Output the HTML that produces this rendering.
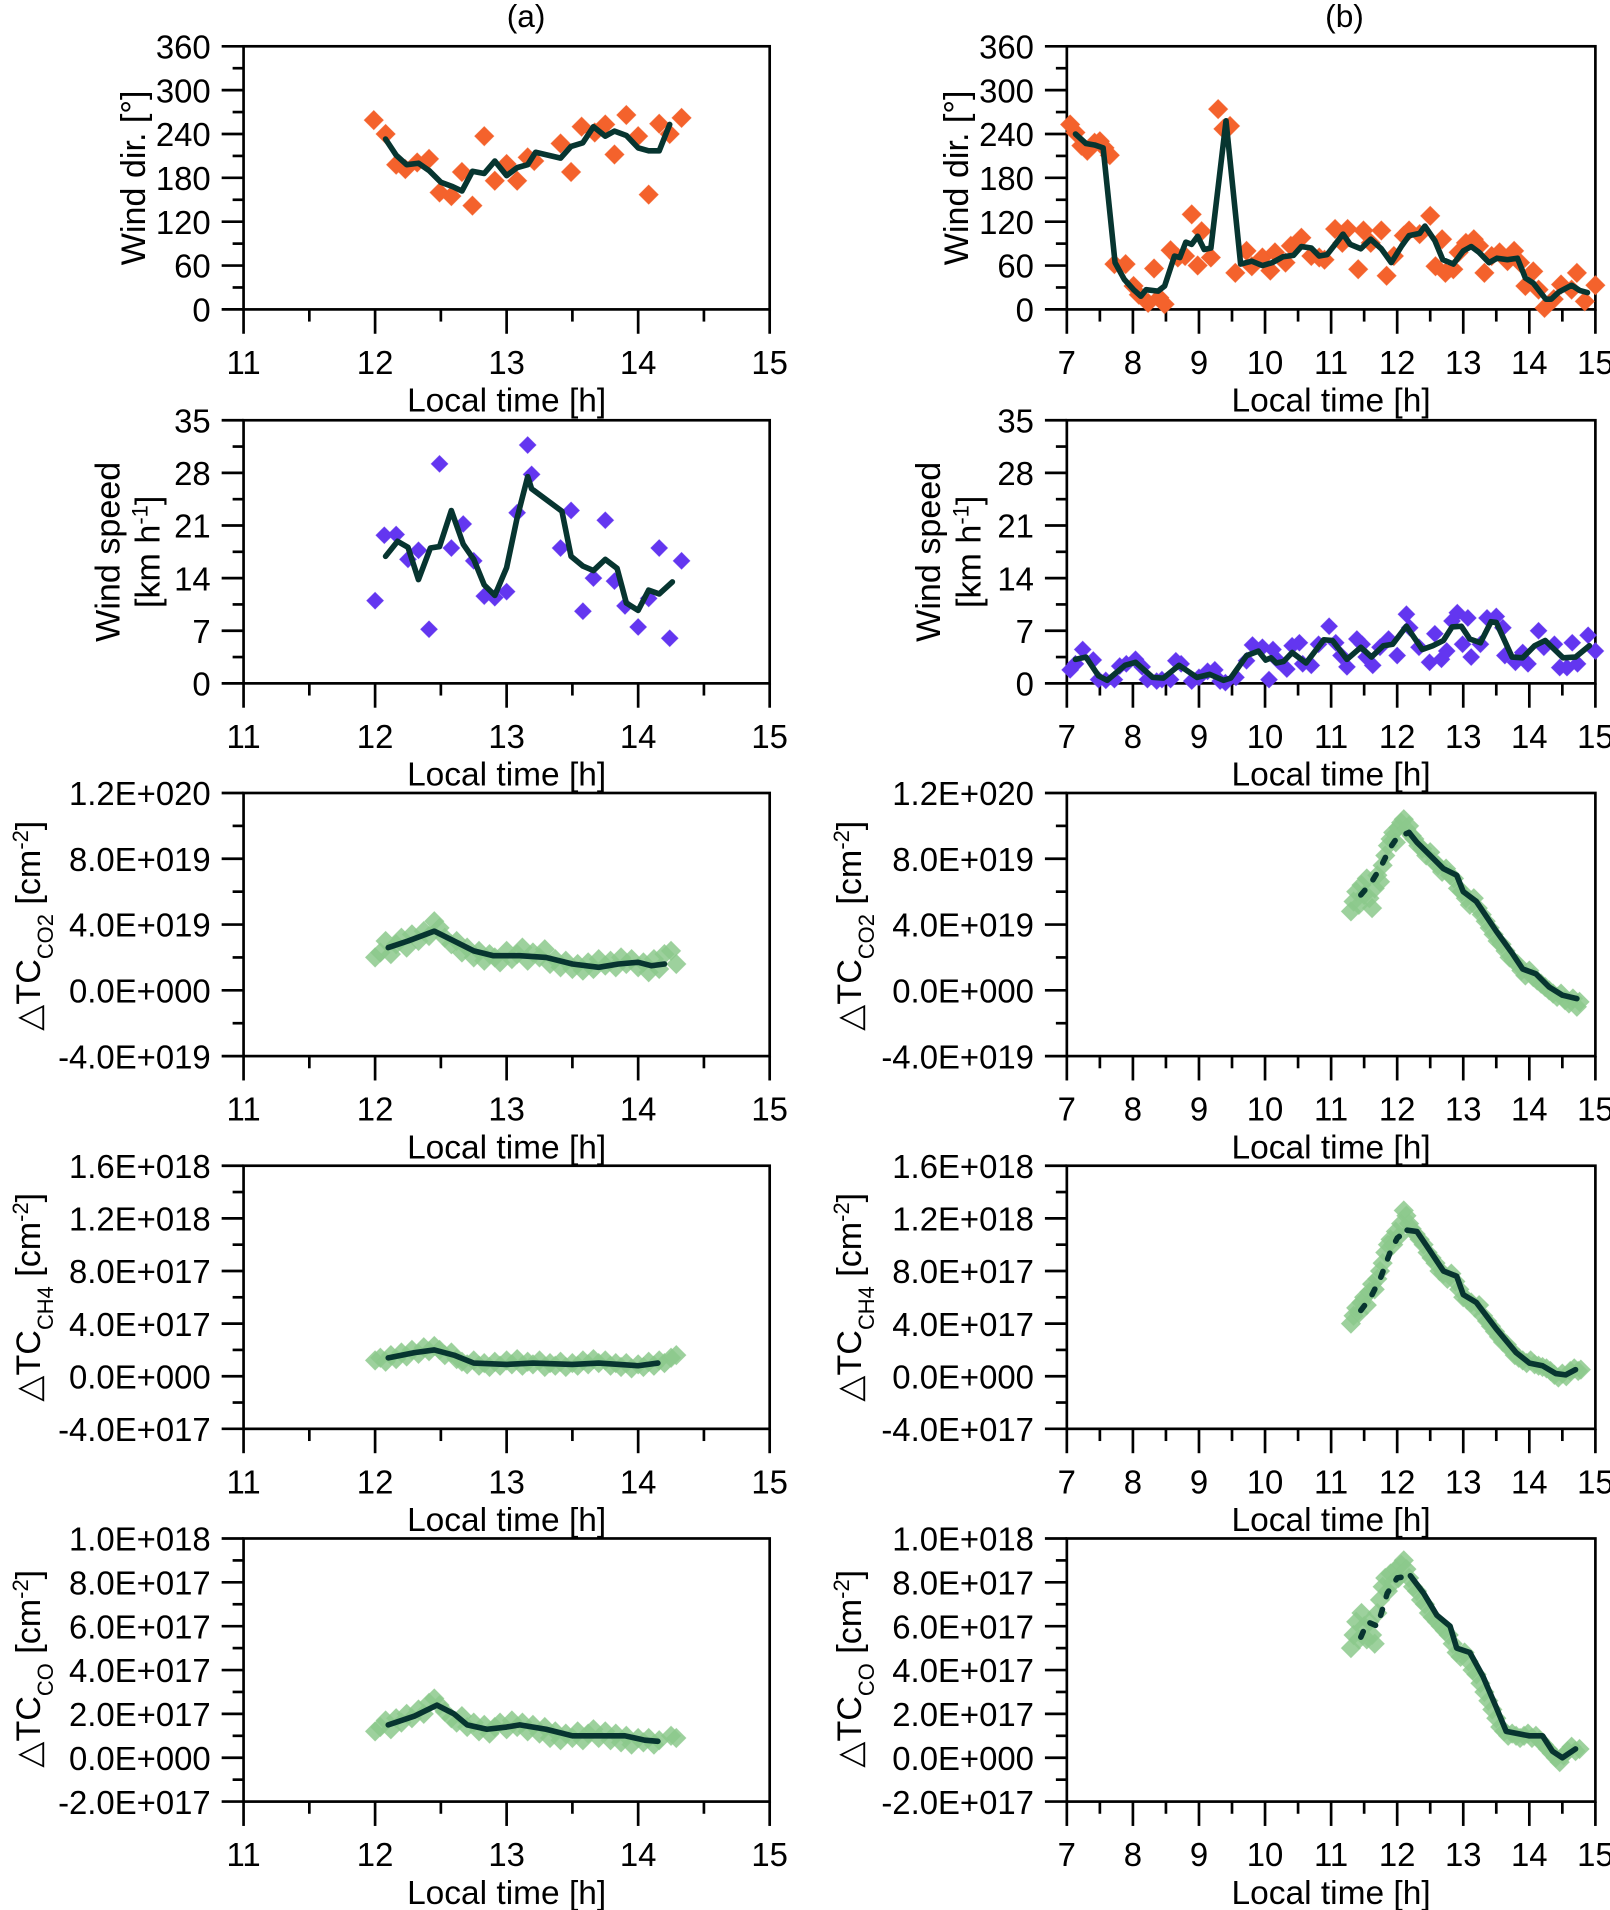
<!DOCTYPE html>
<html><head><meta charset="utf-8"><style>
html,body{margin:0;padding:0;background:#fff;}
svg{display:block;}
text{font-family:"Liberation Sans",Arial,sans-serif;fill:#000;}
</style></head><body>
<svg id="fig" width="1610" height="1910" viewBox="0 0 1322 1568" preserveAspectRatio="none" xmlns="http://www.w3.org/2000/svg">
<text x="432" y="22" font-size="26" text-anchor="middle">(a)</text>
<text x="1104" y="22" font-size="26" text-anchor="middle">(b)</text>
</svg>
<script>
// ---- Data ----
const wdA_t=[11.99,12.08,12.16,12.23,12.32,12.41,12.49,12.58,12.66,12.74,12.83,12.91,13.0,13.08,13.16,13.21,13.41,13.49,13.57,13.67,13.75,13.82,13.91,14.0,14.08,14.16,14.24,14.33];
const wdA_v=[259,240,198,192,201,206,160,155,188,142,237,176,199,176,208,203,227,188,250,242,253,212,266,237,157,254,240,262];
const wdA_lt=[12.08,12.16,12.24,12.33,12.41,12.5,12.59,12.66,12.74,12.83,12.91,13.0,13.08,13.16,13.22,13.41,13.49,13.58,13.66,13.75,13.82,13.91,14.0,14.08,14.16,14.24];
const wdA_lv=[233,211,198,200,190,174,168,162,189,186,203,183,194,198,215,207,223,228,250,237,244,238,221,217,217,253];

const wdB_t=[7.05,7.13,7.22,7.31,7.42,7.5,7.57,7.65,7.72,7.89,8.01,8.09,8.23,8.32,8.4,8.48,8.57,8.68,8.79,8.89,8.98,9.04,9.18,9.29,9.37,9.47,9.55,9.72,9.8,9.96,10.08,10.15,10.31,10.39,10.55,10.7,10.82,10.9,11.06,11.17,11.25,11.41,11.49,11.6,11.76,11.84,11.95,12.1,12.18,12.34,12.5,12.58,12.68,12.73,12.85,12.93,13.04,13.16,13.24,13.32,13.43,13.55,13.67,13.77,13.86,13.94,14.06,14.14,14.23,14.37,14.48,14.64,14.72,14.84,15.0];
const wdB_v=[253,242,224,217,228,230,221,211,62,62,32,20,9,56,16,7,81,71,73,130,60,107,71,274,247,251,50,80,59,71,53,78,64,87,98,73,71,68,110,91,110,55,108,91,108,46,73,101,108,103,128,59,96,50,55,78,91,96,87,50,73,78,66,80,64,32,52,27,2,14,34,27,50,11,33];
const wdB_lt=[7.13,7.29,7.42,7.55,7.73,7.87,8.01,8.12,8.2,8.38,8.48,8.63,8.71,8.8,8.89,8.98,9.08,9.18,9.41,9.63,9.8,9.96,10.11,10.27,10.43,10.55,10.7,10.82,10.94,11.06,11.18,11.29,11.45,11.6,11.76,11.91,12.07,12.18,12.34,12.42,12.57,12.69,12.85,13.0,13.12,13.24,13.39,13.51,13.67,13.82,13.94,14.06,14.25,14.33,14.45,14.64,14.76,14.88];
const wdB_lv=[240,227,225,221,64,41,27,18,27,25,32,73,71,92,89,100,82,84,258,62,66,60,64,72,74,86,84,73,75,89,103,89,83,96,83,64,87,101,104,114,94,68,62,80,86,78,64,70,68,70,43,36,14,14,24,33,26,23];

const wsA_t=[12.0,12.07,12.16,12.25,12.33,12.41,12.49,12.58,12.67,12.75,12.83,12.91,13.0,13.08,13.16,13.19,13.41,13.49,13.58,13.66,13.75,13.82,13.9,14.0,14.08,14.16,14.24,14.33];
const wsA_v=[11.0,19.7,19.8,16.5,17.7,7.2,29.2,18.0,21.2,16.3,11.6,11.4,12.2,22.7,31.7,27.8,18.0,23.0,9.6,14.0,21.7,13.6,10.3,7.5,11.3,18.0,6.0,16.3];
const wsA_lt=[12.08,12.17,12.25,12.33,12.42,12.49,12.58,12.67,12.75,12.83,12.91,13.0,13.08,13.16,13.19,13.42,13.49,13.58,13.66,13.75,13.84,13.91,14.0,14.08,14.16,14.26];
const wsA_lv=[16.9,18.9,18.1,13.8,18.0,18.2,23.0,18.5,16.5,13.1,11.7,15.4,22.0,27.5,25.9,22.9,16.9,15.6,15.0,16.5,15.3,10.7,9.7,12.4,11.9,13.5];

const wsB_t=[7.05,7.13,7.24,7.4,7.48,7.59,7.72,7.8,7.9,8.04,8.14,8.22,8.36,8.44,8.57,8.65,8.73,8.89,9.0,9.13,9.24,9.32,9.4,9.56,9.72,9.81,9.96,10.06,10.12,10.2,10.33,10.41,10.52,10.57,10.7,10.81,10.97,11.07,11.15,11.24,11.39,11.47,11.53,11.63,11.74,11.87,12.0,12.14,12.19,12.33,12.49,12.57,12.67,12.75,12.83,12.91,12.99,13.07,13.12,13.26,13.36,13.5,13.6,13.63,13.79,13.9,13.98,14.14,14.22,14.38,14.46,14.57,14.65,14.73,14.89,15.0];
const wsB_v=[1.8,2.6,4.5,3.1,0.5,0.4,0.5,2.3,2.6,3.2,2.2,0.5,0.3,0.5,0.5,3.0,2.6,0.3,0.8,1.6,1.8,0.3,0.1,0.8,3.0,5.1,4.8,0.5,4.5,3.0,1.9,5.0,5.4,2.6,2.4,5.2,7.6,5.4,3.7,2.2,5.9,5.2,3.5,2.4,4.8,5.9,3.7,9.2,7.4,4.8,2.8,6.6,3.2,4.3,8.3,9.4,5.2,8.7,3.5,5.2,8.7,8.9,7.4,3.7,2.8,4.1,2.6,7.0,4.8,5.2,2.1,2.1,5.4,2.6,6.4,4.3];
const wsB_lt=[7.13,7.29,7.48,7.61,7.88,8.04,8.3,8.46,8.7,8.97,9.16,9.37,9.48,9.72,9.9,10.01,10.09,10.17,10.28,10.41,10.62,10.89,11.02,11.24,11.45,11.61,11.79,11.93,12.14,12.38,12.54,12.7,12.83,12.97,13.1,13.26,13.42,13.5,13.74,13.9,14.08,14.24,14.51,14.7,14.91];
const wsB_lv=[3.2,3.5,1.0,0.4,2.4,2.8,0.8,0.7,2.4,0.8,1.2,0.4,0.7,3.7,4.3,3.1,3.4,2.7,2.9,4.1,2.7,5.8,5.7,3.2,4.8,3.5,5.0,5.2,7.6,4.5,5.0,5.7,7.5,7.6,5.9,5.4,8.2,8.1,3.5,3.4,5.0,5.7,3.4,3.5,5.0];

// CO2 (units 1E+019)
const co2A_t=[12.00,12.04,12.08,12.12,12.16,12.20,12.24,12.28,12.33,12.37,12.41,12.45,12.49,12.53,12.58,12.62,12.66,12.70,12.75,12.79,12.83,12.87,12.91,12.95,13.00,13.04,13.08,13.12,13.16,13.20,13.25,13.29,13.33,13.37,13.41,13.45,13.50,13.54,13.58,13.62,13.66,13.70,13.75,13.79,13.83,13.87,13.91,13.95,14.00,14.04,14.08,14.12,14.16,14.20,14.25,14.29];
const co2A_v=[2.0,2.3,3.0,2.2,2.8,3.2,2.6,3.4,3.0,3.6,3.3,4.2,3.8,3.2,2.8,3.0,2.3,2.6,2.0,2.4,1.8,2.2,2.0,1.7,2.4,1.9,2.2,2.6,1.8,2.3,2.0,2.5,1.6,1.9,1.4,1.8,1.3,1.6,1.2,1.7,1.3,1.9,1.5,1.8,1.4,2.0,1.6,1.9,1.4,1.7,1.1,1.9,1.3,2.2,2.4,1.6];
const co2A_lt=[12.1,12.25,12.45,12.6,12.75,12.9,13.1,13.3,13.5,13.7,13.85,14.0,14.1,14.2];
const co2A_lv=[2.6,3.0,3.6,3.0,2.4,2.1,2.1,2.0,1.6,1.4,1.6,1.7,1.5,1.6];
const co2B_t=[11.30,11.34,11.38,11.42,11.46,11.50,11.54,11.58,11.62,11.66,11.70,11.74,11.78,11.82,11.86,11.90,11.94,11.98,12.02,12.06,12.10,12.14,12.18,12.22,12.26,12.32,12.38,12.44,12.50,12.56,12.62,12.68,12.74,12.80,12.86,12.92,12.98,13.04,13.10,13.16,13.22,13.28,13.34,13.40,13.46,13.52,13.58,13.64,13.70,13.76,13.82,13.88,13.94,14.00,14.06,14.12,14.18,14.24,14.30,14.36,14.42,14.48,14.54,14.60,14.66,14.72,14.76];
const co2B_v=[4.8,5.4,6.0,5.2,6.4,5.8,6.8,5.6,5.0,6.2,7.0,6.6,7.6,8.2,8.8,9.2,9.6,9.0,9.9,10.2,10.4,9.8,10.0,9.4,9.2,8.8,8.6,8.2,8.4,7.8,7.6,7.2,7.4,7.0,6.8,6.2,6.0,5.6,5.2,5.6,5.0,4.6,4.2,3.8,3.4,3.0,2.8,2.4,2.0,1.8,1.6,1.2,0.9,1.2,0.8,0.6,0.4,0.2,0.0,-0.2,-0.4,-0.2,-0.6,-0.8,-0.5,-1.0,-0.7];
const co2B_dt=[11.45,11.6,11.75,11.9,12.0,12.18];
const co2B_dv=[5.8,6.5,7.5,8.7,9.3,9.6];
const co2B_lt=[12.18,12.3,12.5,12.7,12.9,13.0,13.2,13.5,13.75,13.9,14.1,14.3,14.5,14.72];
const co2B_lv=[9.6,9.0,8.2,7.4,7.0,6.0,5.4,3.6,2.2,1.3,1.0,0.2,-0.3,-0.5];

// CH4 (units 1E+017)
const ch4A_t=co2A_t;
const ch4A_v=[1.2,1.4,1.1,1.6,1.3,1.8,1.5,2.0,1.7,2.2,1.9,2.3,2.0,1.6,1.8,1.3,1.1,0.9,1.2,0.8,1.0,0.7,1.1,0.8,1.2,0.9,1.3,0.8,1.1,0.9,1.2,0.7,1.0,0.8,1.1,0.7,1.0,0.8,1.2,0.9,1.3,1.0,1.2,0.8,1.0,0.7,1.0,0.6,0.9,0.7,1.1,0.8,1.2,1.0,1.4,1.6];
const ch4A_lt=[12.1,12.3,12.45,12.6,12.75,13.0,13.2,13.5,13.7,14.0,14.15];
const ch4A_lv=[1.4,1.8,2.0,1.6,1.0,0.9,1.0,0.9,1.0,0.8,1.0];
const ch4B_t=[11.30,11.34,11.38,11.42,11.46,11.50,11.54,11.58,11.62,11.66,11.70,11.74,11.78,11.82,11.86,11.90,11.94,11.98,12.02,12.06,12.10,12.14,12.18,12.22,12.28,12.34,12.40,12.46,12.52,12.58,12.64,12.70,12.76,12.82,12.88,12.94,13.00,13.06,13.12,13.18,13.24,13.30,13.36,13.42,13.48,13.54,13.60,13.66,13.72,13.78,13.84,13.90,13.96,14.02,14.08,14.14,14.20,14.26,14.32,14.38,14.44,14.50,14.56,14.62,14.68,14.74,14.78];
const ch4B_v=[4.0,4.6,5.2,4.8,5.6,6.0,5.4,6.4,7.0,6.6,7.4,8.0,8.6,9.4,10.0,10.4,10.0,11.0,10.6,11.6,12.6,12.2,11.6,11.2,10.8,10.4,10.0,9.4,9.0,8.6,8.0,7.8,7.4,7.8,7.2,6.6,6.0,5.8,5.6,5.2,5.4,4.6,4.2,3.8,3.4,3.0,2.6,2.4,2.0,1.6,1.4,1.2,1.0,1.2,0.9,0.8,0.7,0.6,0.4,0.1,-0.1,0.2,0.0,0.4,0.6,0.4,0.5];
const ch4B_dt=[11.45,11.6,11.75,11.9,12.0,12.15];
const ch4B_dv=[5.0,6.0,7.5,9.5,10.5,11.1];
const ch4B_lt=[12.15,12.3,12.5,12.7,12.9,13.0,13.2,13.5,13.8,14.0,14.2,14.4,14.55,14.7];
const ch4B_lv=[11.1,11.0,9.5,8.0,7.6,6.2,5.6,3.6,1.8,1.0,0.8,0.2,0.1,0.5];

// CO (units 1E+017)
const coA_t=[12.00,12.04,12.08,12.12,12.16,12.20,12.24,12.28,12.33,12.37,12.41,12.45,12.49,12.53,12.58,12.62,12.66,12.70,12.75,12.79,12.83,12.87,12.91,12.95,13.00,13.04,13.08,13.12,13.16,13.20,13.25,13.29,13.33,13.37,13.41,13.45,13.50,13.54,13.58,13.62,13.66,13.70,13.75,13.79,13.83,13.87,13.91,13.95,14.00,14.04,14.08,14.12,14.16,14.25,14.29];
const coA_v=[1.2,1.4,1.7,1.3,1.8,1.6,2.0,1.8,2.2,2.0,2.5,2.7,2.4,2.1,1.8,1.6,1.9,1.4,1.6,1.2,1.5,1.1,1.4,1.6,1.3,1.7,1.4,1.6,1.2,1.5,1.1,1.4,0.9,1.2,0.8,1.1,0.9,1.2,0.8,1.1,1.3,0.9,1.2,0.8,1.1,0.7,1.0,0.6,0.9,0.7,0.9,0.6,0.8,1.0,0.9];
const coA_lt=[12.1,12.3,12.47,12.6,12.7,12.85,13.0,13.1,13.3,13.5,13.7,13.9,14.05,14.15];
const coA_lv=[1.5,1.9,2.4,2.0,1.5,1.3,1.4,1.5,1.3,1.0,1.0,1.0,0.8,0.75];
const coB_t=[11.30,11.34,11.38,11.42,11.46,11.50,11.54,11.58,11.62,11.66,11.70,11.74,11.78,11.82,11.86,11.90,11.94,11.98,12.02,12.06,12.10,12.14,12.18,12.24,12.30,12.36,12.42,12.48,12.54,12.60,12.66,12.72,12.78,12.84,12.90,12.96,13.02,13.08,13.14,13.20,13.26,13.32,13.38,13.44,13.50,13.56,13.62,13.68,13.74,13.80,13.86,13.92,13.98,14.04,14.10,14.16,14.22,14.28,14.34,14.40,14.46,14.52,14.58,14.64,14.70,14.76];
const coB_v=[5.0,5.6,6.2,5.4,6.6,6.0,5.4,6.2,5.6,5.2,6.6,7.2,7.8,8.2,7.6,8.4,8.0,8.6,8.2,8.8,9.0,8.6,8.2,7.8,7.6,7.2,7.0,6.6,6.4,6.2,6.0,5.8,5.6,5.2,4.8,4.6,4.8,4.4,4.0,3.8,3.4,3.0,2.6,2.2,1.8,1.4,1.2,1.0,1.1,1.0,0.9,1.0,1.1,0.9,1.0,0.8,0.6,0.4,0.2,0.0,-0.2,0.1,0.3,0.5,0.3,0.4];
const coB_dt=[11.45,11.55,11.7,11.85,12.0,12.2];
const coB_dv=[5.5,6.2,6.0,7.5,8.2,8.3];
const coB_lt=[12.2,12.4,12.6,12.8,12.9,13.1,13.3,13.5,13.65,14.0,14.2,14.35,14.5,14.7];
const coB_lv=[8.3,7.5,6.5,6.0,5.0,4.8,3.7,2.3,1.2,1.0,1.0,0.3,0.0,0.4];

// tick labels
const ticksDir=[0,60,120,180,240,300,360];
const ticksSpd=[0,7,14,21,28,35];
const ticksCO2=[-4,0,4,8,12];
const ticksCO2Lab=["-4.0E+019","0.0E+000","4.0E+019","8.0E+019","1.2E+020"];
const ticksCH4=[-4,0,4,8,12,16];
const ticksCH4Lab=["-4.0E+017","0.0E+000","4.0E+017","8.0E+017","1.2E+018","1.6E+018"];
const ticksCO=[-2,0,2,4,6,8,10];
const ticksCOLab=["-2.0E+017","0.0E+000","2.0E+017","4.0E+017","6.0E+017","8.0E+017","1.0E+018"];
const xTicksA=[11,12,13,14,15];
const xTicksB=[7,8,9,10,11,12,13,14,15];

const NS='http://www.w3.org/2000/svg';
const svg=document.getElementById('fig');
function el(tag,attrs,parent){const e=document.createElementNS(NS,tag);for(const k in attrs)e.setAttribute(k,attrs[k]);(parent||svg).appendChild(e);return e;}

const rows=[38,345,651,957,1263];
const H=216;
const cols=[{x0:200,x1:632,xmin:11,xmax:15,xt:xTicksA},{x0:876,x1:1310,xmin:7,xmax:15,xt:xTicksB}];

function panel(r,c,ymin,ymax,yt,ylab,name){
  const col=cols[c],top=rows[r],bot=top+H;
  const g=el('g',{});
  
  
  const X=t=>col.x0+(t-col.xmin)/(col.xmax-col.xmin)*(col.x1-col.x0);
  const Y=v=>bot-(v-ymin)/(ymax-ymin)*H;
  const fr=el('rect',{x:col.x0,y:top,width:col.x1-col.x0,height:H,fill:'none',stroke:'#000','stroke-width':2.2},g);
  
  
  for(let i=0;i<yt.length;i++){
    const y=Y(yt[i]);
    const tk=el('line',{x1:col.x0-18,x2:col.x0,y1:y,y2:y,stroke:'#000','stroke-width':2.2},g);
    
    
    const tx=el('text',{x:col.x0-27,y:y+10,'font-size':27,'text-anchor':'end'},g);
    tx.textContent=ylab[i];
    
    
    if(i<yt.length-1){const ym=Y((yt[i]+yt[i+1])/2);
      const mt=el('line',{x1:col.x0-9,x2:col.x0,y1:ym,y2:ym,stroke:'#000','stroke-width':2.2},g);
      
      }
  }
  for(let i=0;i<col.xt.length;i++){
    const x=X(col.xt[i]);
    const tk=el('line',{x1:x,x2:x,y1:bot,y2:bot+20,stroke:'#000','stroke-width':2.2},g);
    
    
    const tx=el('text',{x:x,y:bot+53,'font-size':27,'text-anchor':'middle'},g);
    tx.textContent=String(col.xt[i]);
    
    
    if(i<col.xt.length-1){const xm=X(col.xt[i]+0.5);
      const mt=el('line',{x1:xm,x2:xm,y1:bot,y2:bot+10,stroke:'#000','stroke-width':2.2},g);
      
      }
  }
  const xt=el('text',{x:(col.x0+col.x1)/2,y:bot+84,'font-size':27.5,'text-anchor':'middle'},g);
  xt.textContent='Local time [h]';
  
  
  return {X,Y,g,top,bot,col};
}
function scatter(p,ts,vs,color,size,opacity,name){
  for(let i=0;i<ts.length;i++){
    const x=p.X(ts[i]),y=p.Y(vs[i]);
    const d=el('path',{d:`M${x} ${y-size}L${x+size} ${y}L${x} ${y+size}L${x-size} ${y}Z`,fill:color,'fill-opacity':opacity,stroke:color,'stroke-opacity':0.5,'stroke-width':0.6},p.g);
    
    
  }
}
function line(p,ts,vs,dashed,name){
  const pts=ts.map((t,i)=>p.X(t).toFixed(1)+','+p.Y(vs[i]).toFixed(1)).join(' ');
  const a={points:pts,fill:'none',stroke:'#073530','stroke-width':4.6,'stroke-linejoin':'round','stroke-linecap':'round'};
  if(dashed){a['stroke-dasharray']='5 11';}
  const l=el('polyline',a,p.g);
  
  
}
function ylabel(x,y,parts,name){
  const t=el('text',{transform:`translate(${x},${y}) rotate(-90)`,'font-size':28,'text-anchor':'middle'});
  
  
  parts.forEach(pt=>{const s=el('tspan',pt.a||{},t);s.textContent=pt.s;});
}
const OR='#f4622c',PU='#6336f0',GR='#8cc98c';
const s=String;
let p=panel(0,0,0,360,ticksDir,ticksDir.map(s),'wind-dir-a');
scatter(p,wdA_t,wdA_v,OR,8,1,'wind-dir-point');line(p,wdA_lt,wdA_lv,false,'wind-dir-mean-line');
p=panel(0,1,0,360,ticksDir,ticksDir.map(s),'wind-dir-b');
scatter(p,wdB_t,wdB_v,OR,8,1,'wind-dir-point');line(p,wdB_lt,wdB_lv,false,'wind-dir-mean-line');
ylabel(119,146,[{s:'Wind dir. [°]'}],'y-axis-title-wind-dir-a');
ylabel(795,146,[{s:'Wind dir. [°]'}],'y-axis-title-wind-dir-b');
p=panel(1,0,0,35,ticksSpd,ticksSpd.map(s),'wind-speed-a');
scatter(p,wsA_t,wsA_v,PU,7,1,'wind-speed-point');line(p,wsA_lt,wsA_lv,false,'wind-speed-mean-line');
p=panel(1,1,0,35,ticksSpd,ticksSpd.map(s),'wind-speed-b');
scatter(p,wsB_t,wsB_v,PU,7,1,'wind-speed-point');line(p,wsB_lt,wsB_lv,false,'wind-speed-mean-line');
ylabel(98,453,[{s:'Wind speed'}],'y-axis-title-wind-speed-a');
ylabel(131,453,[{s:'[km h'},{s:'-1',a:{'baseline-shift':'super','font-size':18}},{s:']'}],'y-axis-title-wind-speed-unit-a');
ylabel(772,453,[{s:'Wind speed'}],'y-axis-title-wind-speed-b');
ylabel(805,453,[{s:'[km h'},{s:'-1',a:{'baseline-shift':'super','font-size':18}},{s:']'}],'y-axis-title-wind-speed-unit-b');
function tcLabel(x,y,sub,name){ylabel(x,y,[{s:'△TC'},{s:sub,a:{'baseline-shift':'sub','font-size':18}},{s:' [cm'},{s:'-2',a:{'baseline-shift':'super','font-size':18}},{s:']'}],name);}
p=panel(2,0,-4,12,ticksCO2,ticksCO2Lab,'tc-co2-a');
scatter(p,co2A_t,co2A_v,GR,8,0.85,'tc-co2-point');line(p,co2A_lt,co2A_lv,false,'tc-co2-mean-line');
p=panel(2,1,-4,12,ticksCO2,ticksCO2Lab,'tc-co2-b');
scatter(p,co2B_t,co2B_v,GR,8,0.85,'tc-co2-point');line(p,co2B_dt,co2B_dv,true,'tc-co2-mean-dashed');line(p,co2B_lt,co2B_lv,false,'tc-co2-mean-line');
tcLabel(33,760,'CO2','y-axis-title-co2-a');tcLabel(707,760,'CO2','y-axis-title-co2-b');
p=panel(3,0,-4,16,ticksCH4,ticksCH4Lab,'tc-ch4-a');
scatter(p,ch4A_t,ch4A_v,GR,8,0.85,'tc-ch4-point');line(p,ch4A_lt,ch4A_lv,false,'tc-ch4-mean-line');
p=panel(3,1,-4,16,ticksCH4,ticksCH4Lab,'tc-ch4-b');
scatter(p,ch4B_t,ch4B_v,GR,8,0.85,'tc-ch4-point');line(p,ch4B_dt,ch4B_dv,true,'tc-ch4-mean-dashed');line(p,ch4B_lt,ch4B_lv,false,'tc-ch4-mean-line');
tcLabel(33,1065,'CH4','y-axis-title-ch4-a');tcLabel(707,1065,'CH4','y-axis-title-ch4-b');
p=panel(4,0,-2,10,ticksCO,ticksCOLab,'tc-co-a');
scatter(p,coA_t,coA_v,GR,8,0.85,'tc-co-point');line(p,coA_lt,coA_lv,false,'tc-co-mean-line');
p=panel(4,1,-2,10,ticksCO,ticksCOLab,'tc-co-b');
scatter(p,coB_t,coB_v,GR,8,0.85,'tc-co-point');line(p,coB_dt,coB_dv,true,'tc-co-mean-dashed');line(p,coB_lt,coB_lv,false,'tc-co-mean-line');
tcLabel(33,1370,'CO','y-axis-title-co-a');tcLabel(707,1370,'CO','y-axis-title-co-b');
</script>
</body></html>
